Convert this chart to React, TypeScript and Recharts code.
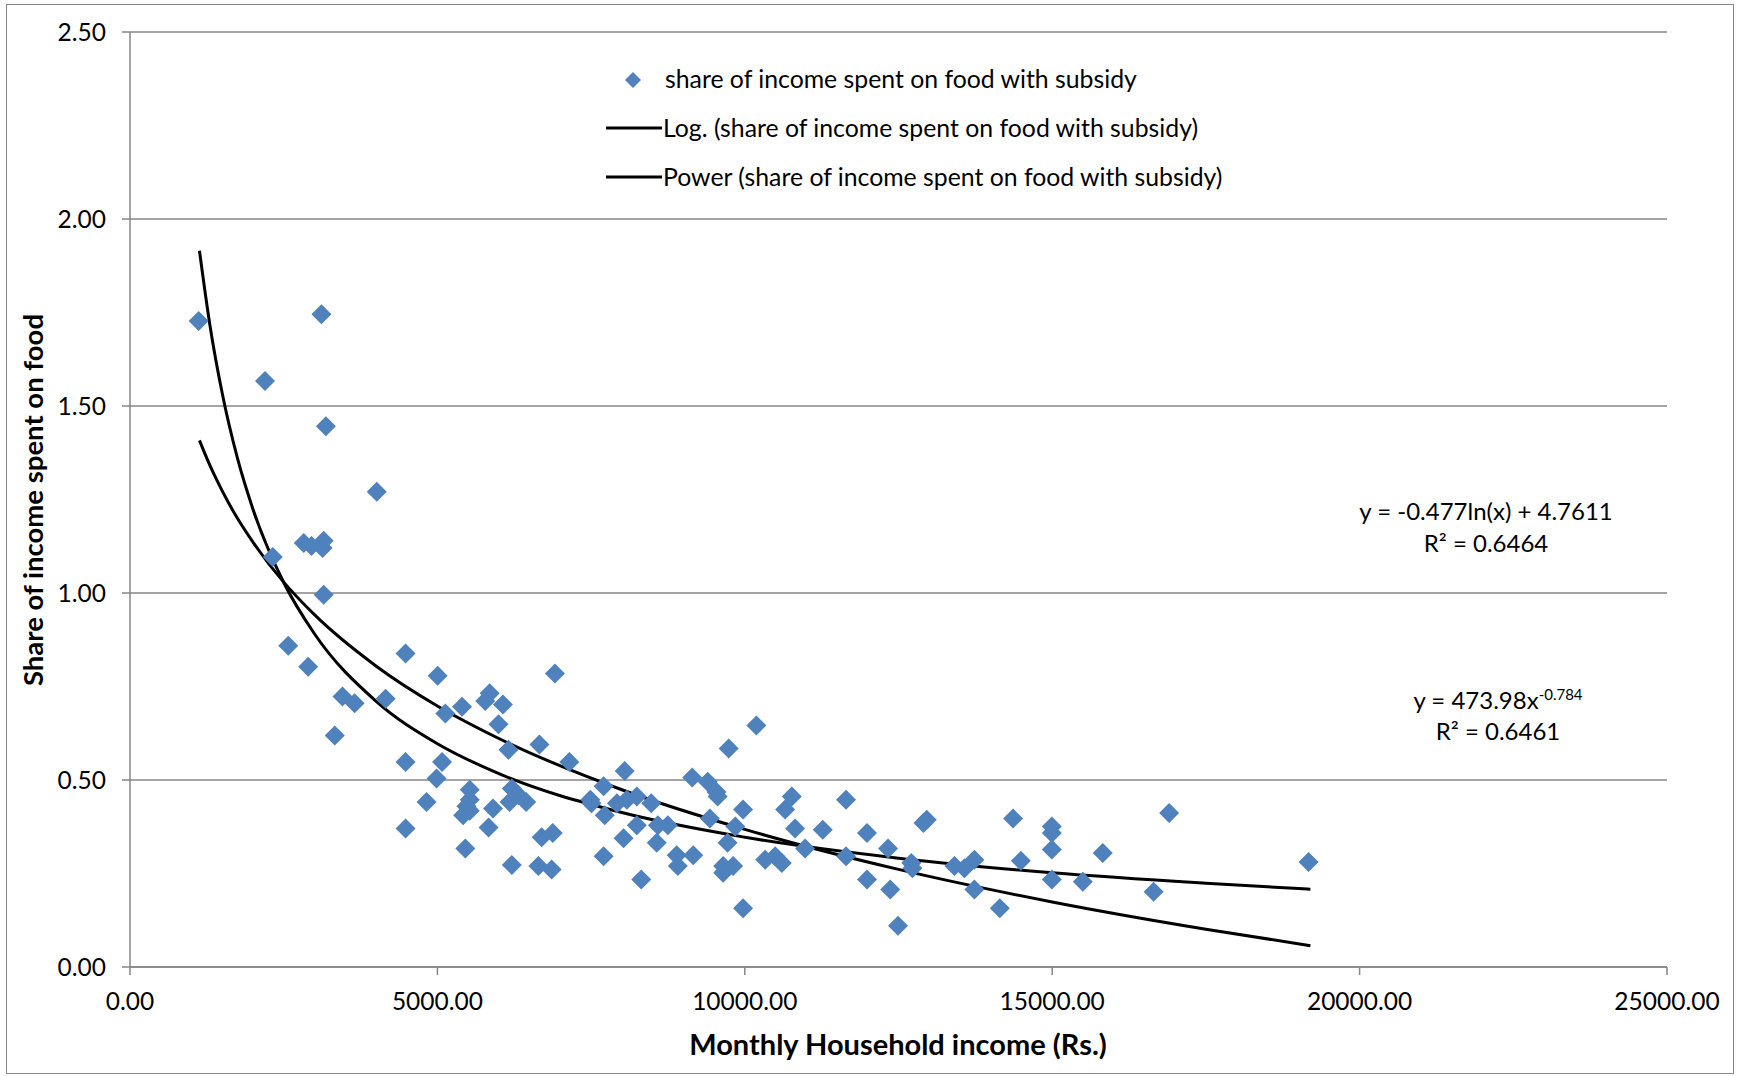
import React from "react";
import {
  ComposedChart,
  Scatter,
  Line,
  XAxis,
  YAxis,
  CartesianGrid,
} from "recharts";

// household income (Rs.) and share of income spent on food
const incomes = [
  1116, 2196, 3114, 3186, 4014, 2322, 2826, 2952, 3150, 3132,
  3150, 2574, 2898, 3456, 3654, 4158, 3330, 4482, 4482, 4482,
  4824, 5004, 4986, 5076, 5130, 5400, 5418, 5454, 5526, 5526,
  5526, 5472, 5778, 5850, 5832, 5904, 5994, 6066, 6156, 6210,
  6210, 6318, 6444, 6174, 6660, 6642, 6696, 6876, 6858, 6912,
  7146, 7488, 7506, 7704, 7704, 7722, 8028, 7920, 8046, 8082,
  8244, 8244, 8316, 8478, 8586, 8568, 8748, 8892, 8910, 9162,
  9144, 9396, 9432, 9540, 9558, 9648, 9648, 9738, 9720, 9810,
  9846, 9972, 9972, 10188, 10332, 10494, 10602, 10656, 10764, 10818,
  10980, 11268, 11646, 11646, 11988, 11988, 12330, 12366, 12492, 12708,
  12726, 12906, 12960, 13410, 13572, 13734, 13734, 14148, 14364, 14490,
  14994, 14994, 14994, 14994, 15498, 15822, 16650, 16902, 19170,
];
const foodShare = [
  1.727, 1.567, 1.745, 1.446, 1.271, 1.096, 1.134, 1.126, 1.14, 1.12,
  0.995, 0.859, 0.803, 0.723, 0.705, 0.717, 0.619, 0.838, 0.548, 0.37,
  0.441, 0.779, 0.504, 0.548, 0.678, 0.696, 0.406, 0.317, 0.474, 0.447,
  0.418, 0.43, 0.711, 0.732, 0.373, 0.424, 0.649, 0.702, 0.581, 0.477,
  0.273, 0.459, 0.441, 0.441, 0.595, 0.27, 0.347, 0.358, 0.261, 0.785,
  0.548, 0.447, 0.438, 0.296, 0.483, 0.406, 0.344, 0.438, 0.524, 0.447,
  0.456, 0.379, 0.234, 0.438, 0.379, 0.332, 0.379, 0.299, 0.27, 0.299,
  0.507, 0.495, 0.397, 0.468, 0.456, 0.27, 0.252, 0.584, 0.332, 0.27,
  0.376, 0.157, 0.421, 0.646, 0.287, 0.296, 0.278, 0.421, 0.456, 0.37,
  0.317, 0.367, 0.447, 0.296, 0.358, 0.234, 0.317, 0.207, 0.11, 0.278,
  0.264, 0.385, 0.394, 0.27, 0.264, 0.287, 0.207, 0.157, 0.397, 0.284,
  0.376, 0.358, 0.314, 0.234, 0.228, 0.305, 0.201, 0.412, 0.281,
];

// trend lines: values of the printed fits at these incomes
const trendIncomes = [
  1130, 1300, 1500, 1750, 2000, 2500, 3000, 4000, 5000, 6000,
  8000, 10000, 12500, 15000, 17500, 19200,
];
// y = -0.477ln(x) + 4.7611
const logTrend = [
  1.408, 1.341, 1.273, 1.199, 1.136, 1.029, 0.942, 0.805, 0.698, 0.611,
  0.474, 0.368, 0.261, 0.174, 0.101, 0.057,
];
// y = 473.98x^-0.784
const powerTrend = [
  1.915, 1.716, 1.534, 1.359, 1.224, 1.028, 0.891, 0.711, 0.597, 0.517,
  0.413, 0.347, 0.291, 0.252, 0.224, 0.208,
];

const xTicks = [0, 5000, 10000, 15000, 20000, 25000];
const yTicks = [0, 0.5, 1, 1.5, 2, 2.5];

const points = incomes.map((x, i) => ({ x, y: foodShare[i] }));
const logData = trendIncomes.map((x, i) => ({ x, y: logTrend[i] }));
const powerData = trendIncomes.map((x, i) => ({ x, y: powerTrend[i] }));

const FONT = "Lato, 'Liberation Sans', sans-serif";
const BLUE = "#4F81BD";
const GRAY = "#868686";

const Diamond = (props: any) => {
  const { cx, cy } = props;
  const r = 10;
  return (
    <path
      d={`M${cx},${cy - r}L${cx + r},${cy}L${cx},${cy + r}L${cx - r},${cy}Z`}
      fill={BLUE}
    />
  );
};

const txt: React.CSSProperties = {
  position: "absolute",
  fontFamily: FONT,
  fontSize: 24.8,
  color: "#000",
  whiteSpace: "nowrap",
  lineHeight: "26px",
};

export default function App() {
  return (
    <div style={{ position: "relative", width: 1737, height: 1076, background: "#fff" }}>
      <style>{`body{margin:0}`}</style>
      <ComposedChart
        width={1737}
        height={1076}
        margin={{ top: 32, right: 70, bottom: 0, left: 0 }}
      >
        <CartesianGrid vertical={false} stroke={GRAY} strokeWidth={1.5} />
        <XAxis
          type="number"
          dataKey="x"
          domain={[0, 25000]}
          ticks={xTicks}
          tickFormatter={(v: number) => v.toFixed(2)}
          height={109}
          stroke={GRAY}
          strokeWidth={1.5}
          tickSize={8}
          tickMargin={18}
          tick={{ fill: "#000", fontSize: 24.5, fontFamily: FONT }}
          allowDataOverflow
        />
        <YAxis
          type="number"
          dataKey="y"
          domain={[0, 2.5]}
          ticks={yTicks}
          tickFormatter={(v: number) => v.toFixed(2)}
          width={130}
          stroke={GRAY}
          strokeWidth={1.5}
          tickSize={8}
          tickMargin={16}
          tick={{ fill: "#000", fontSize: 24.5, fontFamily: FONT }}
        />
        <Scatter
          data={points}
          dataKey="y"
          shape={Diamond}
          isAnimationActive={false}
        />
        <Line
          data={logData}
          dataKey="y"
          type="monotone"
          stroke="#000"
          strokeWidth={3}
          dot={false}
          isAnimationActive={false}
        />
        <Line
          data={powerData}
          dataKey="y"
          type="monotone"
          stroke="#000"
          strokeWidth={3}
          dot={false}
          isAnimationActive={false}
        />
      </ComposedChart>

      {/* outer chart border */}
      <div
        style={{
          position: "absolute",
          left: 6,
          top: 4,
          width: 1726,
          height: 1068,
          border: `1px solid ${GRAY}`,
          pointerEvents: "none",
        }}
      />

      {/* legend */}
      <svg style={{ position: "absolute", left: 600, top: 60 }} width={70} height={130}>
        <path d="M33,12L41,20L33,28L25,20Z" fill={BLUE} />
        <line x1={6} x2={62} y1={68} y2={68} stroke="#000" strokeWidth={3} />
        <line x1={6} x2={62} y1={117} y2={117} stroke="#000" strokeWidth={3} />
      </svg>
      <div style={{ ...txt, left: 665, top: 66 }}>share of income spent on food with subsidy</div>
      <div style={{ ...txt, left: 663, top: 115 }}>Log. (share of income spent on food with subsidy)</div>
      <div style={{ ...txt, left: 663, top: 164 }}>Power (share of income spent on food with subsidy)</div>

      {/* trend equations */}
      <div style={{ ...txt, fontSize: 24, left: 1486, top: 498, transform: "translateX(-50%)" }}>
        y = -0.477ln(x) + 4.7611
      </div>
      <div style={{ ...txt, fontSize: 24, left: 1486, top: 530, transform: "translateX(-50%)" }}>
        R² = 0.6464
      </div>
      <div style={{ ...txt, fontSize: 24, left: 1498, top: 687, transform: "translateX(-50%)" }}>
        y = 473.98x<sup style={{ fontSize: 15, verticalAlign: "9px", lineHeight: 0 }}>-0.784</sup>
      </div>
      <div style={{ ...txt, fontSize: 24, left: 1498, top: 718, transform: "translateX(-50%)" }}>
        R² = 0.6461
      </div>

      {/* axis titles */}
      <div
        style={{
          ...txt,
          fontSize: 29,
          lineHeight: "32px",
          fontWeight: "bold",
          left: 898,
          top: 1028,
          transform: "translateX(-50%)",
        }}
      >
        Monthly Household income (Rs.)
      </div>
      <div
        style={{
          ...txt,
          fontSize: 27.5,
          lineHeight: "32px",
          fontWeight: "bold",
          left: 33,
          top: 500,
          transform: "translate(-50%, -50%) rotate(-90deg)",
        }}
      >
        Share of income spent on food
      </div>
    </div>
  );
}
